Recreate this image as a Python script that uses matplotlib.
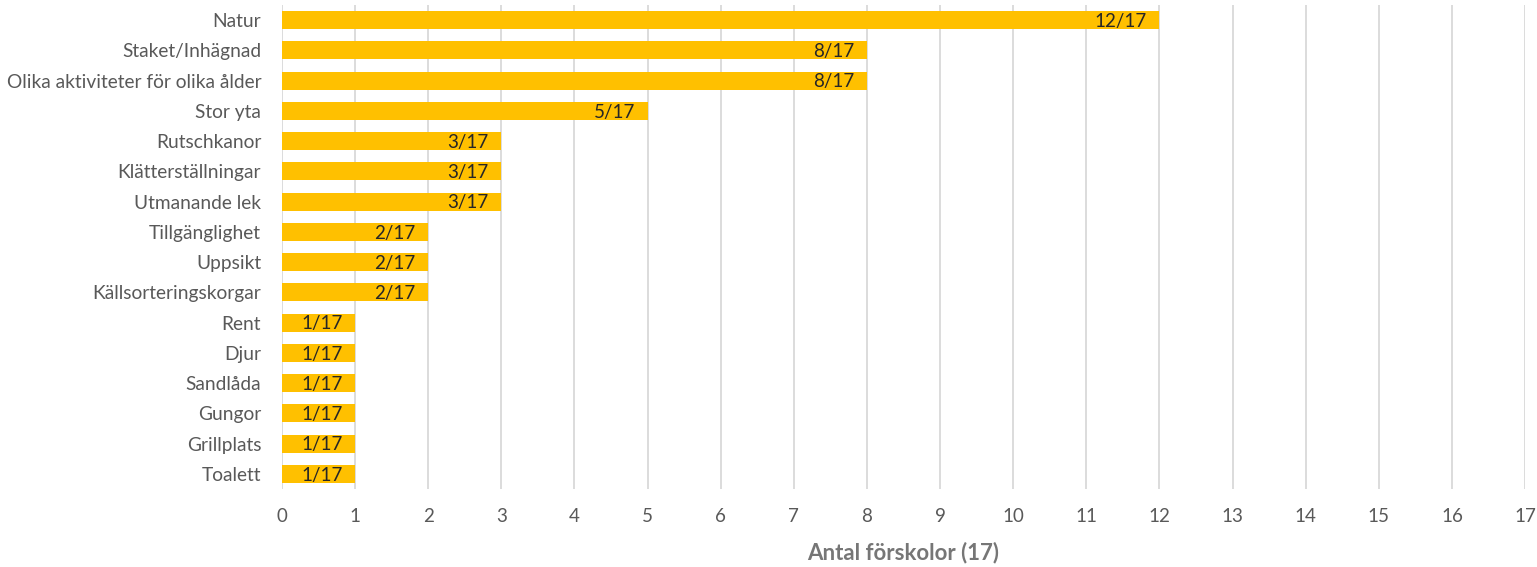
import matplotlib
matplotlib.use("Agg")
import matplotlib.pyplot as plt

categories = ["Natur", "Staket/Inhägnad", "Olika aktiviteter för olika ålder", "Stor yta",
              "Rutschkanor", "Klätterställningar", "Utmanande lek", "Tillgänglighet",
              "Uppsikt", "Källsorteringskorgar", "Rent", "Djur", "Sandlåda", "Gungor",
              "Grillplats", "Toalett"]
values = [12, 8, 8, 5, 3, 3, 3, 2, 2, 2, 1, 1, 1, 1, 1, 1]
total = 17
labels = [f"{v}/{total}" for v in values]
xticks = list(range(0, 18))

plt.rcParams['font.family'] = ['Lato', 'DejaVu Sans']

fig = plt.figure(figsize=(15.37, 5.67), dpi=100)
ax = fig.add_axes([282/1537, 1 - 489/567, (1525-282)/1537, (489-5)/567])

y = list(range(len(categories)))
ax.barh(y, values, height=0.6, color="#FFC000", zorder=3)
ax.set_ylim(len(categories) - 0.5, -0.5)
ax.set_xlim(0, 17)
ax.set_xticks(xticks)
ax.set_yticks(y)
ax.set_yticklabels(categories)

for yi, v, lab in zip(y, values, labels):
    ax.text(v - 0.17, yi + 0.04, lab, ha="right", va="center", fontsize=13.5, color="#262626", zorder=4)

ax.grid(axis="x", color="#d9d9d9", linewidth=1.3, zorder=0)
for s in ax.spines.values():
    s.set_visible(False)
ax.tick_params(axis="both", length=0, colors="#595959")
ax.tick_params(axis="y", pad=15, labelsize=13.8)
ax.tick_params(axis="x", pad=14, labelsize=13.5)

ax.set_xlabel("Antal förskolor (17)", fontsize=16, fontweight="bold", color="#767676", labelpad=12)

fig.savefig("out.png", dpi=100)
